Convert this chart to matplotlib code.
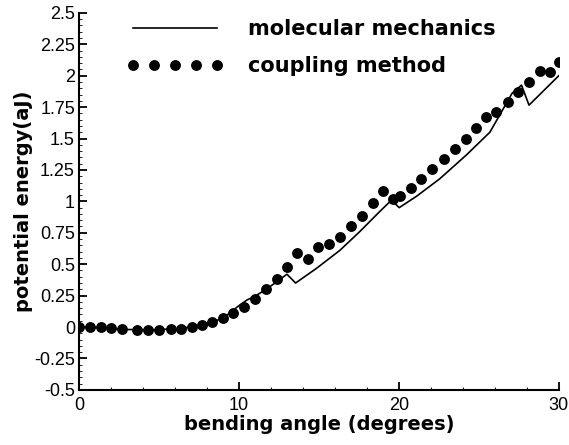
import numpy as np
import matplotlib.pyplot as plt
from matplotlib.ticker import MultipleLocator

# coupling method (dots)
ang_cm = [0, 0.69, 1.36, 2.0, 2.67, 3.64, 4.33, 5.02, 5.73, 6.38, 7.04, 7.71,
          8.33, 8.98, 9.64, 10.31, 11.0, 11.69, 12.36, 12.98, 13.6, 14.29,
          14.96, 15.64, 16.31, 16.98, 17.67, 18.36, 19.02, 19.64, 20.06, 20.73,
          21.38, 22.08, 22.81, 23.48, 24.17, 24.81, 25.48, 26.1, 26.83, 27.46,
          28.14, 28.81, 29.44, 30.0]
e_cm = [0, 0, 0, -0.01, -0.018, -0.024, -0.024, -0.024, -0.018, -0.013, 0,
        0.016, 0.04, 0.069, 0.114, 0.157, 0.22, 0.30, 0.38, 0.48, 0.59, 0.54,
        0.64, 0.66, 0.72, 0.80, 0.885, 0.985, 1.085, 1.016, 1.045, 1.11, 1.18,
        1.257, 1.337, 1.416, 1.50, 1.58, 1.668, 1.71, 1.79, 1.87, 1.95, 2.04,
        2.03, 2.11]

# molecular mechanics (line)
ang_mm = [0, 2, 3, 4.5, 6, 7, 8, 9, 10, 10.5, 11, 11.7, 12.36, 13.0, 13.54,
          14.85, 16.31, 17.56, 18.81, 19.54, 20.02, 21.1, 22.56, 24.23, 25.69,
          27.08, 27.67, 28.14, 30.0]
e_mm = [0, -0.01, -0.02, -0.022, -0.015, 0, 0.025, 0.07, 0.17, 0.215, 0.245,
        0.30, 0.36, 0.42, 0.35, 0.467, 0.61, 0.76, 0.92, 1.01, 0.95, 1.04,
        1.18, 1.37, 1.55, 1.86, 1.925, 1.766, 2.0]

fig = plt.figure(figsize=(5.69, 4.45), dpi=100)
ax = fig.add_axes([0.139, 0.124, 0.843, 0.847])

ax.plot(ang_mm, e_mm, color='black', lw=1.2, label='molecular mechanics')
ax.plot(ang_cm, e_cm, 'o', color='black', ms=6.8, label='coupling method')

ax.set_xlim(0, 30)
ax.set_ylim(-0.5, 2.5)
ax.xaxis.set_major_locator(MultipleLocator(10))
ax.xaxis.set_minor_locator(MultipleLocator(2))
ax.yaxis.set_minor_locator(MultipleLocator(0.05))
ax.set_yticks([-0.5, -0.25, 0, 0.25, 0.5, 0.75, 1, 1.25, 1.5, 1.75, 2, 2.25, 2.5])
ax.set_yticklabels(['-0.5', '-0.25', '0', '0.25', '0.5', '0.75', '1', '1.25',
                    '1.5', '1.75', '2', '2.25', '2.5'])

for s in ['top', 'right']:
    ax.spines[s].set_visible(False)
for s in ['left', 'bottom']:
    ax.spines[s].set_linewidth(1.5)

ax.tick_params(which='major', direction='in', length=6, width=1.3,
               labelsize=13, pad=3)
ax.tick_params(which='minor', direction='in', length=2.5, width=0.6)
ax.tick_params(axis='x', pad=5)
for lab in ax.get_xticklabels() + ax.get_yticklabels():
    lab.set_family('Liberation Sans')

ax.set_xlabel('bending angle (degrees)', fontsize=14, fontweight='bold',
              labelpad=1)
ax.set_ylabel('potential energy(aJ)', fontsize=14, fontweight='bold',
              labelpad=1)

leg = ax.legend(loc='upper left', bbox_to_anchor=(0.1, 0.983), frameon=False,
                numpoints=5, handlelength=4.6, handletextpad=1.2,
                labelspacing=0.8, borderpad=0, borderaxespad=0,
                prop={'size': 15, 'weight': 'bold'})

fig.savefig('out.png', dpi=100)
